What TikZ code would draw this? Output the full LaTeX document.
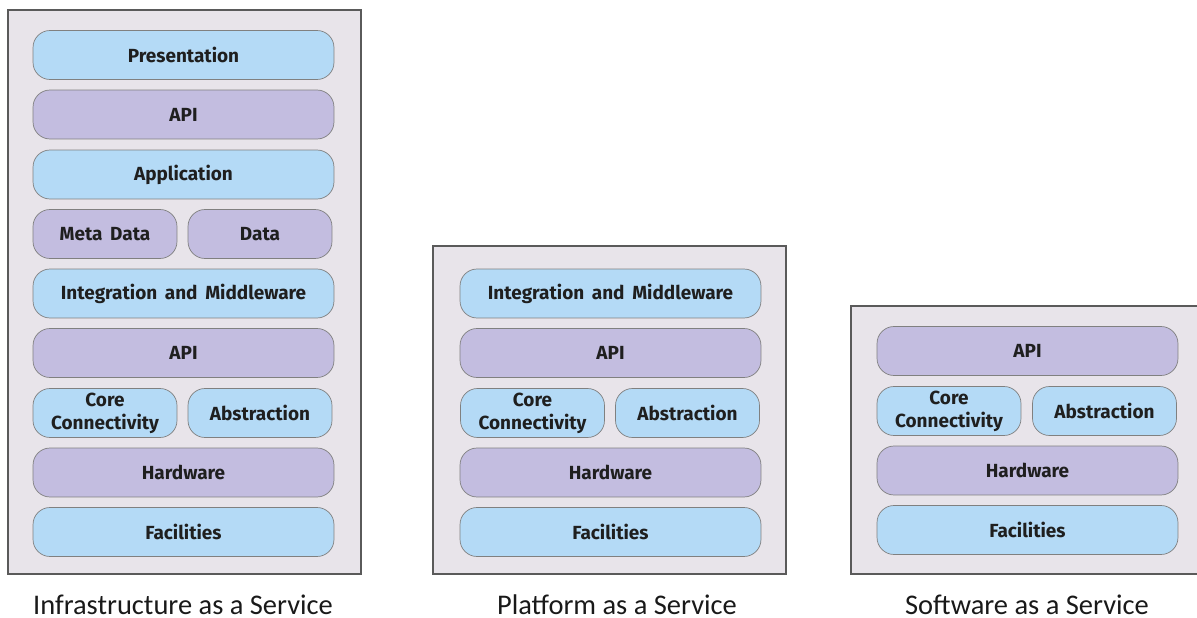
\documentclass[tikz,border=0pt]{standalone}
\usepackage{fontspec}
\setmainfont{Carlito}
\newfontfamily\layerfont[WordSpace=1.7]{Fira Sans}
\usepackage{tikz}
\usetikzlibrary{positioning}
\definecolor{panelbg}{HTML}{E8E4EA}
\definecolor{panelline}{HTML}{5A5A5A}
\definecolor{layerblue}{HTML}{B4DAF6}
\definecolor{layerpurple}{HTML}{C3BDE0}
\definecolor{layerline}{HTML}{808080}
\tikzset{
  panel/.style={draw=panelline,fill=panelbg,line width=0.6pt},
  layer/.style={draw=layerline,line width=0.4pt,rounded corners=0.34cm,
    minimum height=0.98cm,inner sep=1pt,align=center,
    font=\layerfont\bfseries\fontsize{10.8}{13}\selectfont,text=black!88},
  wide/.style={layer,minimum width=6.02cm},
  half/.style={layer,minimum width=2.88cm},
  blue/.style={fill=layerblue},
  purple/.style={fill=layerpurple},
  caption/.style={font=\fontsize{16.2}{18}\selectfont,text=black!90,
    anchor=base,inner sep=0pt,text depth=0pt}
}

\begin{document}
\begin{tikzpicture}[x=0.02cm,y=-0.02cm]
\useasboundingbox (0,0) rectangle (1197,618);
% Infrastructure as a Service
\draw[panel] (8,10) rectangle (361,574);
\node[wide,blue]   (iPres) at (183.5,55)  {Presentation};
\node[wide,purple] (iApi)  at (183.5,114.5) {API};
\node[wide,blue]   (iApp)  at (183.5,174.5) {Application};
\node[half,purple] (iMeta) at (105,234) {Meta Data};
\node[half,purple] (iData) at (260,234) {Data};
\node[wide,blue]   (iInt)  at (183.5,293.5) {Integration and Middleware};
\node[wide,purple] (iApi2) at (183.5,353) {API};
\node[half,blue]   (iCore) at (105,413) {Core\\Connectivity};
\node[half,blue]   (iAbs)  at (260,413) {Abstraction};
\node[wide,purple] (iHw)   at (183.5,472.5) {Hardware};
\node[wide,blue]   (iFac)  at (183.5,532) {Facilities};
\node[caption] (iCap) at (183,614) {Infrastructure as a Service};
% Platform as a Service
\draw[panel] (433,246) rectangle (786,574);
\node[wide,blue]   (pInt)  at (610.5,293.5) {Integration and Middleware};
\node[wide,purple] (pApi)  at (610.5,353) {API};
\node[half,blue]   (pCore) at (532.5,413) {Core\\Connectivity};
\node[half,blue]   (pAbs)  at (687.5,413) {Abstraction};
\node[wide,purple] (pHw)   at (610.5,472.5) {Hardware};
\node[wide,blue]   (pFac)  at (610.5,532) {Facilities};
\node[caption] (pCap) at (617,614) {Platform as a Service};
% Software as a Service
\draw[panel] (851,306) rectangle (1205,574);
\node[wide,purple] (sApi)  at (1027.5,351) {API};
\node[half,blue]   (sCore) at (949,411) {Core\\Connectivity};
\node[half,blue]   (sAbs)  at (1104.5,411) {Abstraction};
\node[wide,purple] (sHw)   at (1027.5,470.5) {Hardware};
\node[wide,blue]   (sFac)  at (1027.5,530) {Facilities};
\node[caption] (sCap) at (1027,614) {Software as a Service};
\end{tikzpicture}
\end{document}
